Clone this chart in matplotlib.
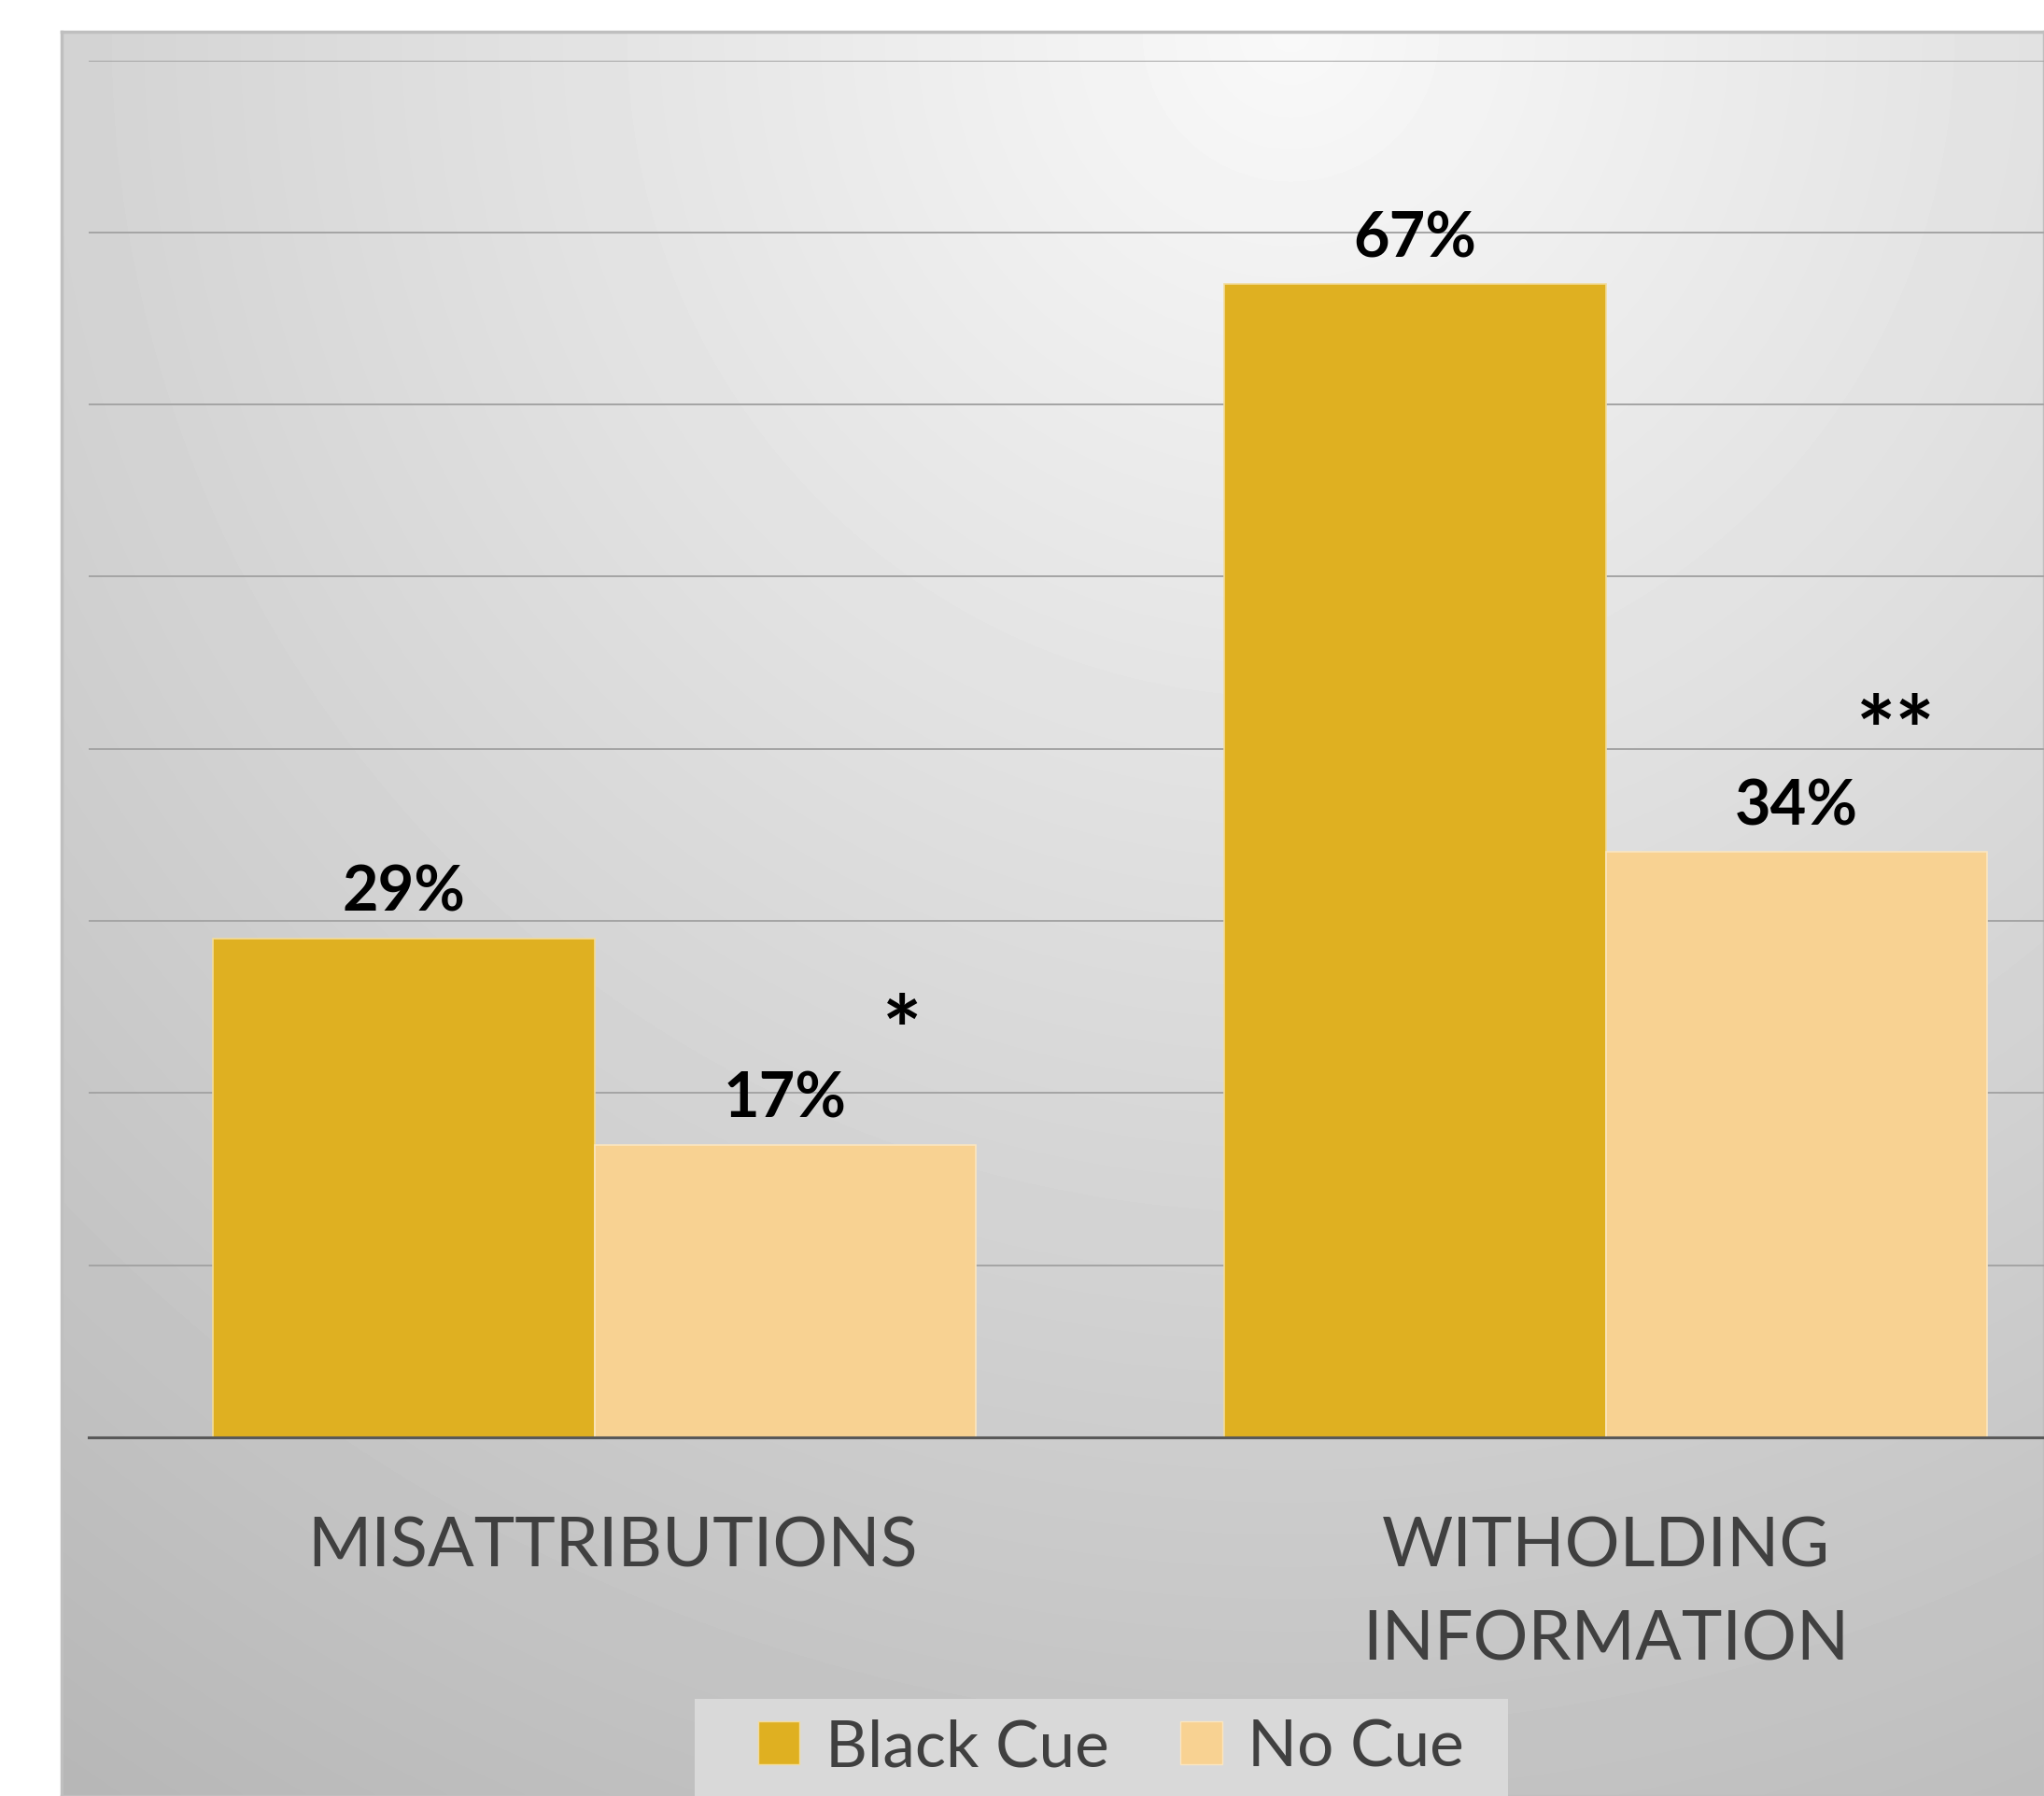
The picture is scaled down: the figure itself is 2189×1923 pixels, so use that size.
# Grouped bar chart: Black Cue vs No Cue, on a grey gradient panel

import numpy as np
import matplotlib.pyplot as plt
import matplotlib.transforms as mtransforms
from matplotlib.patches import Patch, Rectangle

# Data

categories = ["MISATTRIBUTIONS", "WITHOLDING\nINFORMATION"]
series_names = ["Black Cue", "No Cue"]
black_cue = [29, 67]
no_cue = [17, 34]
stars = ["*", "**"]
star_x = [0.304, 1.287]
star_y = [23.3, 40.7]

colors = ["#DFB021", "#F8D292"]
text_grey = "#404040"

plt.rcParams['font.family'] = ['Lato', 'DejaVu Sans']

W, H = 2189, 1924
fig = plt.figure(figsize=(W / 100, H / 100), dpi=100)

# Background panel with a soft radial gradient
px0, py1 = 65.6, 35
bg = fig.add_axes([px0 / W, 0, 1 - px0 / W, 1 - py1 / H])
gx, gy = np.meshgrid(np.linspace(0, 1, 500), np.linspace(0, 1, 500))
aspect = (H - py1) / (W - px0)
r = np.sqrt((gx - 0.62) ** 2 + ((gy - 0.0) * aspect) ** 2)
val = np.clip(0.975 - 0.24 * r, 0, 1)
bg.imshow(val, cmap="gray", vmin=0, vmax=1, extent=(0, 1, 1, 0), aspect="auto",
          interpolation="bilinear")
bg.set_xlim(0, 1)
bg.set_ylim(1, 0)
bg.set_xticks([])
bg.set_yticks([])
for s in bg.spines.values():
    s.set_color("#bfbfbf")
    s.set_linewidth(2.5)

# legend box (runs off the bottom of the picture)
fig.patches.append(Rectangle((744 / W, 0), (1615 - 744) / W, 1 - 1820 / H,
                             transform=fig.transFigure, facecolor="#dcdcdc",
                             edgecolor="none", alpha=0.9, zorder=1))

# Main chart axes (right part is cropped off the figure)
left, right = 95, 2261
bottom, top = 1540, 65.6
ax = fig.add_axes([left / W, 1 - bottom / H, (right - left) / W, (bottom - top) / H])
ax.set_facecolor("none")

x = np.arange(len(categories))
bw = 0.3776
b1 = ax.bar(x - bw / 2, black_cue, bw, color=colors[0], edgecolor="#f3dc9a",
            linewidth=1.2, label=series_names[0], zorder=3)
b2 = ax.bar(x + bw / 2, no_cue, bw, color=colors[1], edgecolor="#fbe6c0",
            linewidth=1.2, label=series_names[1], zorder=3)

for bars in (b1, b2):
    ax.bar_label(bars, labels=[f"{v}%" for v in bars.datavalues], padding=13,
                 fontsize=48, fontweight="bold", color="black")

for sx, sy, s in zip(star_x, star_y, stars):
    ax.text(sx, sy, s, ha="center", va="center", fontsize=72,
            fontweight="bold", color="black")

ax.set_xlim(-0.5, 1.5)
ax.set_ylim(0, 80)
ax.set_yticks(np.arange(10, 81, 10))
ax.yaxis.grid(True, color="#a4a4a4", linewidth=1.4, zorder=0)
ax.set_axisbelow(True)
ax.tick_params(axis="y", left=False, labelleft=False)
ax.tick_params(axis="x", length=0, pad=60, labelsize=53, labelcolor=text_grey)
ax.set_xticks(x)
ax.set_xticklabels(categories, linespacing=1.62)
for side in ("left", "right", "top"):
    ax.spines[side].set_visible(False)
ax.spines["bottom"].set_color("#595959")
ax.spines["bottom"].set_linewidth(2.2)
ax.spines["bottom"].set_zorder(4)

# first category label sits a little right of its tick in the original
lab0 = ax.get_xticklabels()[0]
lab0.set_transform(lab0.get_transform() +
                   mtransforms.ScaledTranslation(0.2, 0, fig.dpi_scale_trans))

handles = [Patch(facecolor=colors[0], edgecolor="#f3dc9a"),
           Patch(facecolor=colors[1], edgecolor="#fbe6c0")]
leg = fig.legend(handles, series_names, loc="upper center",
                 bbox_to_anchor=(1190 / W, 1 - 1820 / H), ncol=2, fontsize=50,
                 frameon=False, handlelength=0.64, handleheight=0.64,
                 handletextpad=0.4, columnspacing=1.1, borderpad=0.3,
                 borderaxespad=0)
for t in leg.get_texts():
    t.set_color(text_grey)

fig.savefig("out.png", dpi=100)
